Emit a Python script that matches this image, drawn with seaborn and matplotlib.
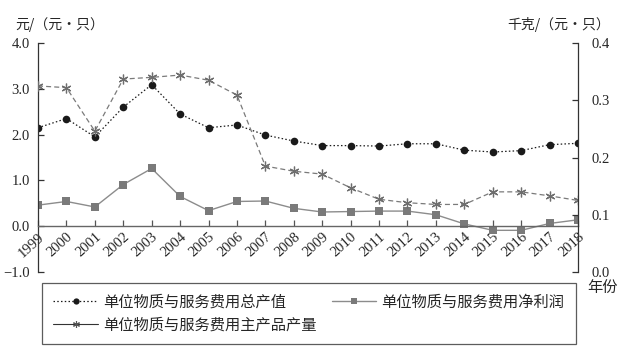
import matplotlib
matplotlib.use("Agg")
import matplotlib.pyplot as plt
from matplotlib.lines import Line2D
import seaborn as sns
import pandas as pd
import numpy as np

years = [str(y) for y in range(1999, 2019)]
total_output = [2.15, 2.35, 1.95, 2.60, 3.09, 2.45, 2.15, 2.21, 1.99, 1.86,
                1.76, 1.76, 1.75, 1.80, 1.80, 1.66, 1.62, 1.65, 1.78, 1.81]
net_profit = [0.46, 0.54, 0.42, 0.91, 1.26, 0.65, 0.34, 0.54, 0.55, 0.39,
              0.31, 0.32, 0.33, 0.33, 0.25, 0.05, -0.09, -0.09, 0.06, 0.14]
main_yield = [0.325, 0.322, 0.246, 0.337, 0.340, 0.344, 0.335, 0.309, 0.185, 0.176,
              0.171, 0.147, 0.127, 0.121, 0.118, 0.118, 0.140, 0.140, 0.133, 0.125]
left_ticks = [-1.0, 0.0, 1.0, 2.0, 3.0, 4.0]
right_ticks = [0.0, 0.1, 0.2, 0.3, 0.4]

label_total = "单位物质与服务费用总产值"
label_profit = "单位物质与服务费用净利润"
label_yield = "单位物质与服务费用主产品产量"

sns.set_theme(style="white")
plt.rcParams["font.family"] = ["Liberation Serif", "Noto Sans CJK SC"]
plt.rcParams["font.size"] = 10
plt.rcParams["axes.unicode_minus"] = True
cjk = ["Noto Sans CJK SC", "DejaVu Sans"]

df = pd.DataFrame({"x": np.arange(len(years)), "total": total_output,
                   "profit": net_profit, "yield": main_yield})

fig = plt.figure(figsize=(6.34, 3.46), dpi=100)
ax = fig.add_axes([38 / 634, 1 - 272 / 346, (578 - 38) / 634, (272 - 43) / 346])
ax2 = ax.twinx()

c_total = "#1a1a1a"
c_profit_line = "#8c8c8c"
c_profit_mark = "#7a7a7a"
c_yield = "#7a7a7a"
dot_style = (0, (1.2, 1.8))
dash_style = (0, (4, 2.5))
star = (6, 2, 0)

sns.lineplot(data=df, x="x", y="total", ax=ax, color=c_total, linestyle=dot_style,
             linewidth=0.9, marker="o", markersize=5.5, markeredgewidth=0,
             markerfacecolor=c_total, legend=False)
sns.lineplot(data=df, x="x", y="profit", ax=ax, color=c_profit_line, linestyle="-",
             linewidth=1.0, marker="s", markersize=5.5, markeredgewidth=0,
             markerfacecolor=c_profit_mark, legend=False)
sns.lineplot(data=df, x="x", y="yield", ax=ax2, color=c_yield, linestyle=dash_style,
             linewidth=0.9, marker=star, markersize=7, markeredgewidth=0.9,
             markeredgecolor="#6e6e6e", legend=False)

ax.set_xlim(0, len(years) - 1)
ax.set_ylim(-1.0, 4.0)
ax2.set_ylim(0.0, 0.4)
ax.set_yticks(left_ticks)
ax.set_yticklabels([f"{v:.1f}".replace("-", "\u2212") for v in left_ticks])
ax2.set_yticks(right_ticks)
ax2.set_yticklabels([f"{v:.1f}" for v in right_ticks])
ax.set_xticks(list(df["x"]))
ax.set_xticklabels(years)
ax.set_xlabel("")
ax.set_ylabel("")
ax2.set_ylabel("")

spine_col = "#333333"
for a in (ax, ax2):
    a.spines["top"].set_visible(False)
    a.grid(False)
    a.patch.set_visible(False)
ax.spines["right"].set_visible(False)
ax2.spines["left"].set_visible(False)
ax2.spines["bottom"].set_visible(False)
ax.spines["left"].set_color(spine_col)
ax.spines["left"].set_linewidth(0.9)
ax2.spines["right"].set_color(spine_col)
ax2.spines["right"].set_linewidth(0.9)
ax.spines["bottom"].set_position(("data", 0))
ax.spines["bottom"].set_color("#666666")
ax.spines["bottom"].set_linewidth(1.0)

ax.tick_params(axis="y", direction="in", length=4, width=0.9, color=spine_col,
               labelsize=10.5, pad=6, left=True)
ax2.tick_params(axis="y", direction="in", length=4, width=0.9, color=spine_col,
                labelsize=10.5, pad=10, right=True)
ax.tick_params(axis="x", direction="in", length=4, width=0.9, color="#555555",
               labelsize=10.5, pad=3, bottom=True, labelrotation=42)
for lbl in ax.get_xticklabels():
    lbl.set_horizontalalignment("right")
    lbl.set_verticalalignment("top")
    lbl.set_rotation_mode("anchor")

fig.text(15 / 634, 1 - 25 / 346, "元/（元・只）", fontsize=10, va="center", ha="left",
         family=cjk)
fig.text(610 / 634, 1 - 25 / 346, "千克/（元・只）", fontsize=10, va="center", ha="right",
         family=cjk)
fig.text(603 / 634, 1 - 288 / 346, "年份", fontsize=11, va="center", ha="center")

# legend keys drawn in the styles of the three series
h_total = Line2D([], [], color=c_total, linestyle=dot_style, linewidth=0.9,
                 marker="o", markersize=4.5, markeredgewidth=0)
h_yield = Line2D([], [], color="#333333", linestyle="-", linewidth=0.8,
                 marker=star, markersize=5, markeredgewidth=0.8, markeredgecolor="#555555")
h_profit = Line2D([], [], color=c_profit_line, linestyle="-", linewidth=1.0,
                  marker="s", markersize=4.5, markeredgewidth=0, markerfacecolor=c_profit_mark)
handles = [h_total, h_yield, h_profit]
labels = [label_total, label_yield, label_profit]
leg = fig.legend(handles, labels, ncol=2, loc="upper left",
                 bbox_to_anchor=(42 / 634, 1 - 283 / 346),
                 frameon=True, fancybox=False, fontsize=11,
                 handlelength=2.9, handletextpad=0.35, borderpad=0.75,
                 labelspacing=0.55, columnspacing=1.0, borderaxespad=0)
leg.get_frame().set_edgecolor("#333333")
leg.get_frame().set_linewidth(0.9)

fig.savefig("out.png", dpi=100)
